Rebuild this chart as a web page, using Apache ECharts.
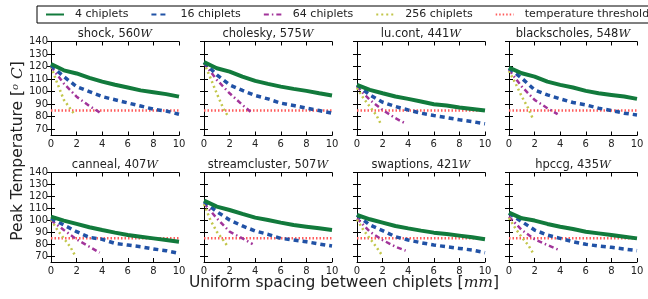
<!DOCTYPE html>
<head>
    <meta charset="utf-8">
    <title>ECharts</title>
    <style>
    html,body { height:100%; width:100%; margin:0; background:white; padding:0; }
    #main { width:648px; height:299px; }
    </style>
</head>
<body>
<div id="main"></div>
<script src="https://cdn.jsdelivr.net/npm/echarts@6/dist/echarts.min.js"></script>
<script type="text/javascript">
// benchmarks (one panel each)
var benchNames = ['shock', 'cholesky', 'lu.cont', 'blackscholes', 'canneal', 'streamcluster', 'swaptions', 'hpccg'];
var benchPower = [560, 575, 441, 548, 407, 507, 421, 435];

// spacing between chiplets [mm]
var spacing    = [0, 1, 2, 3, 4, 5, 6, 7, 8, 9, 10];
var spacing64  = [0, 1, 2, 3, 3.8];
var spacing256 = [0, 0.5, 1, 1.5, 1.9];

// peak temperature per benchmark
var temp4 = [
    [122, 117, 114.5, 111, 108, 105.5, 103.3, 101, 99.5, 98, 96],
    [123.5, 118.7, 116, 112, 108.6, 106.2, 104, 102.2, 100.6, 98.7, 96.9],
    [105.4, 101.4, 98.7, 96.1, 94.2, 92.1, 90, 88.9, 87.3, 86.2, 84.9],
    [119.2, 114.7, 112, 108, 105.4, 103.3, 100.6, 98.7, 97.4, 96.1, 94.2],
    [103, 99.7, 96.9, 94.1, 91.8, 89.6, 87.6, 86.2, 84.8, 83.4, 82],
    [116.5, 111.4, 108.6, 105.3, 102.2, 100.2, 98, 96, 94.6, 93.2, 91.8],
    [104.4, 100.8, 98, 95.2, 93.2, 91.3, 89.6, 88.5, 87.1, 85.7, 84],
    [106.4, 101.6, 99.7, 96.9, 94.6, 92.7, 90.4, 89, 87.6, 86.2, 84.8]
];
var temp16 = [
    [121, 112, 104, 100, 96, 93.5, 91, 88.5, 86, 84.5, 82],
    [123.5, 113.4, 105.4, 101, 96.9, 94.2, 90.8, 88.9, 86.8, 84.9, 82.8],
    [105.4, 97.4, 91.6, 88.1, 85.4, 82.8, 80.9, 79.3, 77.5, 76.1, 74.3],
    [118.7, 110.7, 101.4, 97.4, 94.2, 91.3, 89.4, 86.8, 84.9, 82.8, 81.4],
    [101.6, 96, 90.4, 85.7, 84, 80.6, 79.2, 77.8, 75.9, 74.5, 72.2],
    [115.6, 107.2, 100.2, 95.2, 91, 88.2, 84.8, 83.4, 82, 80.1, 78.4],
    [104.4, 96, 91.3, 86.2, 83.4, 81.2, 79.2, 77.8, 76.4, 75, 72.8],
    [105.8, 98.8, 91.8, 87.6, 84.8, 82, 79.8, 78.4, 77.3, 75.9, 74.5]
];
var temp64 = [
    [120, 106.5, 96, 88.5, 83.5],
    [122.7, 109.4, 98.7, 89.4, 82.5],
    [104, 93.4, 85.4, 78.8, 74.5],
    [117.4, 104, 93.4, 86.8, 82],
    [100, 91.8, 84, 77.8, 72.8],
    [114.2, 101.6, 90.4, 84.8, 80],
    [101.6, 90.4, 83.4, 77.8, 74.5],
    [103, 91.8, 84, 79.2, 75.6]
];
var temp256 = [
    [120, 106.5, 93.5, 86.5, 81],
    [123, 111, 98.5, 86.8, 80],
    [103, 94.8, 88.1, 81.4, 73.5],
    [116.5, 106.7, 96.1, 86.8, 77.5],
    [100.5, 91.8, 84.8, 77.8, 70],
    [113.5, 100.2, 90.4, 83.4, 77.3],
    [100.5, 91.8, 84.8, 77.8, 71.5],
    [102, 93.2, 85.7, 79.2, 72]
];
var threshold = 85;

var yTicks = [70, 80, 90, 100, 110, 120, 130, 140];
var seriesNames = ['4 chiplets', '16 chiplets', '64 chiplets', '256 chiplets', 'temperature threshold'];

var colGreen = '#127a3c', colBlue = '#2152a6', colMag = '#a2349a', colYel = '#c2c64a', colRed = '#ff5c5c';

var colLeft = [51, 204, 357, 509];
var rowTop = [41.5, 172.5];
var rowH = [94, 89.5];
var plotW = 128;

function zip(xs, ys) {
    var out = [];
    for (var i = 0; i < ys.length; i++) out.push([xs[i], ys[i]]);
    return out;
}

var grids = [], xAxes = [], yAxes = [], series = [], graphics = [];
var tickFont = { fontFamily: 'DejaVu Sans', fontSize: 10, color: '#222' };

for (var k = 0; k < 8; k++) {
    var r = Math.floor(k / 4), c = k % 4;
    grids.push({ left: colLeft[c], top: rowTop[r], width: plotW, height: rowH[r], show: false });
    var axLine = { show: true, lineStyle: { color: '#000', width: 1 } };
    // bottom x
    xAxes.push({ type: 'value', gridIndex: k, min: 0, max: 10, interval: 2, position: 'bottom',
        axisLine: axLine, axisTick: { inside: true, length: 4, lineStyle: { color: '#000' } },
        axisLabel: Object.assign({ margin: 4 }, tickFont), splitLine: { show: false } });
    // top x (ticks only)
    xAxes.push({ type: 'value', gridIndex: k, min: 0, max: 10, interval: 2, position: 'top',
        axisLine: axLine, axisTick: { inside: true, length: 4, lineStyle: { color: '#000' } },
        axisLabel: { show: false }, splitLine: { show: false } });
    // left y
    yAxes.push({ type: 'value', gridIndex: k, min: 65, max: 140, position: 'left',
        axisLine: axLine,
        axisTick: { inside: true, length: 4, customValues: yTicks, lineStyle: { color: '#000' } },
        axisLabel: Object.assign({ show: c === 0, margin: 3, customValues: yTicks }, tickFont),
        splitLine: { show: false } });
    // right y (ticks only)
    yAxes.push({ type: 'value', gridIndex: k, min: 65, max: 140, position: 'right',
        axisLine: axLine,
        axisTick: { inside: true, length: 4, customValues: yTicks, lineStyle: { color: '#000' } },
        axisLabel: { show: false, customValues: yTicks }, splitLine: { show: false } });

    var xi = 2 * k, yi = 2 * k;
    series.push({ name: seriesNames[0], type: 'line', xAxisIndex: xi, yAxisIndex: yi, symbol: 'none',
        data: zip(spacing, temp4[k]), lineStyle: { color: colGreen, width: 4 }, itemStyle: { color: colGreen }, z: 5 });
    series.push({ name: seriesNames[1], type: 'line', xAxisIndex: xi, yAxisIndex: yi, symbol: 'none',
        data: zip(spacing, temp16[k]), lineStyle: { color: colBlue, width: 3.5, type: [5, 4] }, itemStyle: { color: colBlue }, z: 4 });
    series.push({ name: seriesNames[2], type: 'line', xAxisIndex: xi, yAxisIndex: yi, symbol: 'none',
        data: zip(spacing64, temp64[k]), lineStyle: { color: colMag, width: 2.5, type: [5, 3, 1.5, 3] }, itemStyle: { color: colMag }, z: 3 });
    series.push({ name: seriesNames[3], type: 'line', xAxisIndex: xi, yAxisIndex: yi, symbol: 'none',
        data: zip(spacing256, temp256[k]), lineStyle: { color: colYel, width: 2.5, type: [2, 3] }, itemStyle: { color: colYel }, z: 3 });
    series.push({ name: seriesNames[4], type: 'line', xAxisIndex: xi, yAxisIndex: yi, symbol: 'none',
        data: [[0, threshold], [10, threshold]], lineStyle: { color: colRed, width: 2.5, type: [1.5, 2] }, itemStyle: { color: colRed }, z: 2 });

    graphics.push({ type: 'text', x: colLeft[c] + plotW / 2, y: rowTop[r] - 7,
        style: { text: benchNames[k] + ', ' + benchPower[k] + '{i|W}', fill: '#222', fontFamily: 'DejaVu Sans', fontSize: 11.5,
            align: 'center', verticalAlign: 'middle',
            rich: { i: { fontFamily: 'DejaVu Serif', fontStyle: 'italic', fontSize: 11.5, fill: '#222' } } } });
}

// axis titles
graphics.push({ type: 'text', x: 18, y: 151, rotation: Math.PI / 2,
    style: { text: 'Peak Temperature [{s|o} {i|C}]', fill: '#222', fontFamily: 'DejaVu Sans', fontSize: 15.5,
        align: 'center', verticalAlign: 'middle',
        rich: { s: { fontFamily: 'DejaVu Serif', fontStyle: 'italic', fontSize: 10, verticalAlign: 'top', padding: [0, 0, 6, 0], fill: '#222' },
                i: { fontFamily: 'DejaVu Serif', fontStyle: 'italic', fontSize: 15.5, fill: '#222' } } } });
graphics.push({ type: 'text', x: 344, y: 283,
    style: { text: 'Uniform spacing between chiplets [{i|mm}]', fill: '#222', fontFamily: 'DejaVu Sans', fontSize: 15.5,
        align: 'center', verticalAlign: 'middle',
        rich: { i: { fontFamily: 'DejaVu Serif', fontStyle: 'italic', fontSize: 15.5, fill: '#222' } } } });

var myChart = echarts.init(document.getElementById('main'));
myChart.setOption({
    animation: false,
    backgroundColor: '#fff',
    legend: {
        data: seriesNames, left: 37, top: 6, width: 720, orient: 'horizontal',
        itemWidth: 18, itemHeight: 12, itemGap: 22,
        itemStyle: { opacity: 0 },
        borderColor: '#000', borderWidth: 1, padding: [3, 8, 3, 8],
        textStyle: { fontFamily: 'DejaVu Sans', fontSize: 11, color: '#222', padding: [0, 0, 0, 6] }
    },
    grid: grids,
    xAxis: xAxes,
    yAxis: yAxes,
    series: series,
    graphic: graphics
});
</script>
</body>
